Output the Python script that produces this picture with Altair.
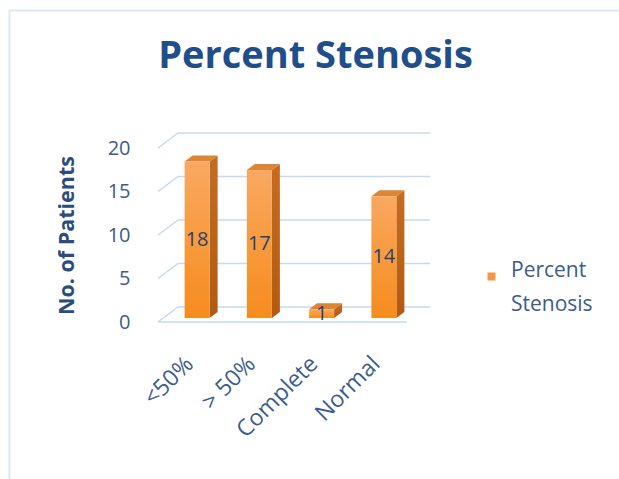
import altair as alt
import pandas as pd

# Data
categories = ["<50%", "> 50%", "Complete", "Normal"]
patients = [18, 17, 1, 14]
y_ticks = [0, 5, 10, 15, 20]
series_name = "Percent Stenosis"

# Plot geometry (front plane of the 3D box)
W, H = 249, 174
Y_MAX = 20
PX_X = W / len(categories)      # pixels per category step
PX_Y = H / Y_MAX                # pixels per patient


def ux(px):
    return px / PX_X


def uy(px):
    return px / PX_Y


# depth of the walls and of the bars, converted into data units
WALL_DX, WALL_DY = ux(20), uy(15)
BAR_SHIFT_X, BAR_SHIFT_Y = ux(8), uy(4)
BAR_DX, BAR_DY = ux(8), uy(6)
BAR_HALF = ux(12.5)

front_rows, side_rows, top_rows, label_rows = [], [], [], []
for i, (cat, v) in enumerate(zip(categories, patients)):
    cx = i + 0.5 + BAR_SHIFT_X
    xl, xr = cx - BAR_HALF, cx + BAR_HALF
    yb, yt = BAR_SHIFT_Y, v + BAR_SHIFT_Y
    front_rows.append(dict(cat=cat, x=xl, x2=xr, y=yt, y2=yb))
    side_rows += [
        dict(cat=cat, x=xr, y=yt, y2=yb),
        dict(cat=cat, x=xr + BAR_DX, y=yt + BAR_DY, y2=yb + BAR_DY),
    ]
    top_rows += [
        dict(cat=cat, y=yt, x=xl, x2=xr),
        dict(cat=cat, y=yt + BAR_DY, x=xl + BAR_DX, x2=xr + BAR_DX),
    ]
    label_rows.append(dict(cat=cat, x=cx, y=v / 2 + BAR_SHIFT_Y, value=v))

grid_rows = [dict(x=WALL_DX, x2=len(categories) + WALL_DX + ux(3), y=t + WALL_DY, y2=t + WALL_DY) for t in y_ticks]
diag_rows = [dict(x=0, x2=WALL_DX, y=t, y2=t + WALL_DY) for t in y_ticks]
floor_rows = [dict(x=0, x2=len(categories), y=0, y2=0)]

x_scale = alt.Scale(domain=[0, len(categories)], nice=False, zero=False)
y_scale = alt.Scale(domain=[0, Y_MAX], nice=False, zero=False)

label_js = "[" + ",".join("'%s'" % c for c in categories) + "]"
x_axis = alt.Axis(
    values=[i + 0.5 for i in range(len(categories))],
    labelExpr=label_js + "[floor(datum.value)]",
    labelAngle=-45, labelAlign="right", labelBaseline="middle",
    labelFont="Open Sans", labelFontSize=23, labelColor="#3b5c8c",
    labelPadding=38, ticks=False, tickSize=0, domain=False, grid=False,
    title=None, labelOverlap=False,
)
y_axis = alt.Axis(
    values=y_ticks, labelFont="Open Sans", labelFontSize=20, labelColor="#3b5c8c",
    labelPadding=28, ticks=False, tickSize=0, domain=False, grid=False,
    title="No. of Patients", titleFont="Open Sans", titleFontSize=21.5,
    titleFontWeight="bold", titleColor="#2a4d7d", titleX=-91, titleY=H / 2,
    titleBaseline="middle", titleAngle=270,
)

X = alt.X("x:Q", scale=x_scale, axis=x_axis)
Y = alt.Y("y:Q", scale=y_scale, axis=y_axis)

grid_color = "#c5daf0"

grid = alt.Chart(pd.DataFrame(grid_rows + diag_rows + floor_rows)).mark_rule(
    color=grid_color, strokeWidth=1.5
).encode(x=X, x2="x2:Q", y=Y, y2="y2:Q")

side = alt.Chart(pd.DataFrame(side_rows)).mark_area(
    orient="vertical",
    fill=alt.Gradient(
        gradient="linear", x1=0, y1=0, x2=0, y2=1,
        stops=[alt.GradientStop(color="#c56c22", offset=0),
               alt.GradientStop(color="#b35a12", offset=1)],
    ),
).encode(
    x=X,
    y=alt.Y("y:Q", scale=y_scale, axis=y_axis, stack=None),
    y2="y2:Q",
    detail="cat:N",
)

top = alt.Chart(pd.DataFrame(top_rows)).mark_area(
    orient="horizontal", fill="#dc8634",
).encode(
    y=Y,
    x=alt.X("x:Q", scale=x_scale, axis=x_axis, stack=None),
    x2="x2:Q",
    detail="cat:N",
)

front = alt.Chart(pd.DataFrame(front_rows)).mark_rect(
    fill=alt.Gradient(
        gradient="linear", x1=0, y1=0, x2=0, y2=1,
        stops=[alt.GradientStop(color="#f9a862", offset=0),
               alt.GradientStop(color="#f89a3e", offset=0.5),
               alt.GradientStop(color="#f58c1e", offset=1)],
    ),
).encode(x=X, x2="x2:Q", y=Y, y2="y2:Q")

labels = alt.Chart(pd.DataFrame(label_rows)).mark_text(
    font="Open Sans", fontSize=20, color="#25426f", baseline="middle",
).encode(x=X, y=Y, text="value:Q")

# invisible mark that carries the series legend
legend_src = alt.Chart(pd.DataFrame({"series": [series_name], "x": [0.5], "y": [0]})).mark_square(
    opacity=0, size=64,
).encode(
    x=X,
    y=Y,
    color=alt.Color(
        "series:N",
        scale=alt.Scale(range=["#f79646"]),
        legend=alt.Legend(
            title=None, orient="none", legendX=323, legendY=118,
            symbolType="square", symbolSize=64, symbolOpacity=1,
            symbolStrokeWidth=0, labelFont="Open Sans", labelFontSize=21,
            labelColor="#3b5c8c", labelExpr="['Percent', 'Stenosis']",
            labelBaseline="alphabetic", labelOffset=9, padding=0,
        ),
    ),
)

border = alt.Chart(pd.DataFrame({"k": [0]})).mark_rect(
    fill=None, stroke="#dce7f3", strokeWidth=2,
).encode(
    x=alt.value(-148.5), x2=alt.value(480), y=alt.value(-137.5), y2=alt.value(360),
)

chart = alt.layer(border, grid, side, top, front, labels, legend_src).properties(
    width=W, height=H,
    title=alt.TitleParams(
        series_name, font="Open Sans", fontSize=38, fontWeight="bold",
        color="#1f4e8a", anchor="middle", dx=33, dy=70,
    ),
    padding={"left": 158, "top": 148, "right": 619 - 158 - W, "bottom": 479 - 148 - H},
    autosize=alt.AutoSizeParams(type="none"),
).configure(
    background="white",
    view=alt.ViewConfig(stroke=None),
    style={"guide-label": alt.MarkConfig(lineHeight=34)},
)

chart.save("out.html", embed_options={"renderer": "svg", "actions": False})
